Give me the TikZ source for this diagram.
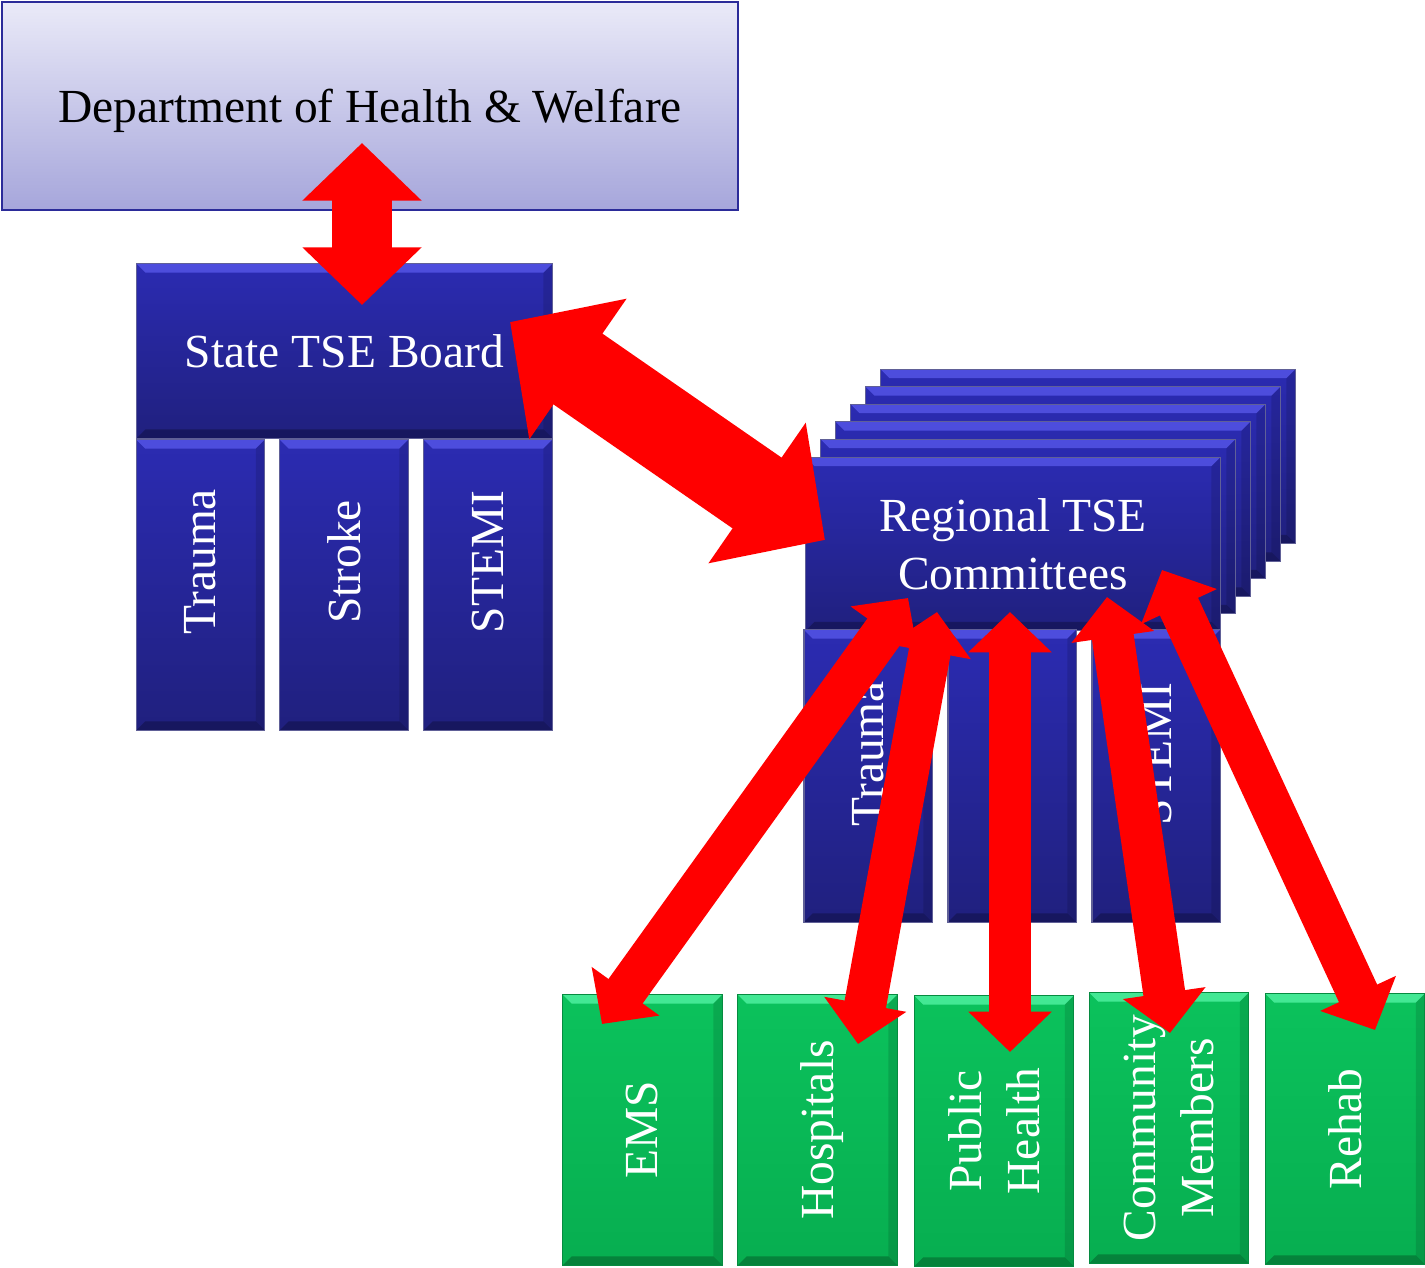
\documentclass[tikz,border=0pt]{standalone}
\usepackage{fontspec}
\setmainfont{Liberation Serif}
\usetikzlibrary{arrows.meta}

\definecolor{boardblue}{HTML}{2B2BB2}
\definecolor{boarddark}{HTML}{20207E}
\definecolor{boardedge}{HTML}{1C1C6A}
\definecolor{boardhi}{HTML}{5656E8}
\definecolor{partgreen}{HTML}{0BC25C}
\definecolor{partdark}{HTML}{07AE50}
\definecolor{parthi}{HTML}{52F2A2}
\definecolor{deptlight}{HTML}{EAEAF8}
\definecolor{deptdark}{HTML}{A6A6DB}
\definecolor{deptedge}{HTML}{2B2B99}
\definecolor{linkred}{HTML}{FF0000}

\tikzset{
  bevel/.style={path picture={
    \fill[#1, opacity=.8] (path picture bounding box.north west) -- (path picture bounding box.north east)
      -- ([shift={(-2.5pt,-2.5pt)}]path picture bounding box.north east) -- ([shift={(2.5pt,-2.5pt)}]path picture bounding box.north west) -- cycle;
    \fill[black, opacity=.25] (path picture bounding box.south west) -- (path picture bounding box.south east)
      -- ([shift={(-2.5pt,2.5pt)}]path picture bounding box.south east) -- ([shift={(2.5pt,2.5pt)}]path picture bounding box.south west) -- cycle;
    \fill[black, opacity=.12] (path picture bounding box.north east) -- (path picture bounding box.south east)
      -- ([shift={(-2.5pt,2.5pt)}]path picture bounding box.south east) -- ([shift={(-2.5pt,-2.5pt)}]path picture bounding box.north east) -- cycle;
  }},
  deptbox/.style={rectangle, inner sep=0pt, top color=deptlight, bottom color=deptdark, draw=deptedge, line width=0.02cm, text=black},
  blueblock/.style={rectangle, inner sep=0pt, top color=boardblue, bottom color=boarddark, draw=boardedge!70, line width=0.3pt, text=white, bevel=boardhi},
  greenblock/.style={rectangle, inner sep=0pt, top color=partgreen, bottom color=partdark, draw=partdark!80!black, line width=0.3pt, bevel=parthi, minimum width=1.59cm, minimum height=2.7cm},
  colblock/.style={minimum width=1.28cm, minimum height=2.9cm},
  coltext/.style={rotate=90, text=white, align=center, inner sep=0pt},
  link/.style={draw=linkred, line width=#1, >={Triangle[length=0pt .96, width=0pt 1.93]}, <->}
}

\begin{document}
\begin{tikzpicture}[x=0.01cm, y=-0.01cm, font=\fontsize{13.5}{16.5}\selectfont]
  \useasboundingbox (0,0) rectangle (1425,1268);

  % Department
  \node[deptbox, text depth=0pt, minimum width=7.36cm, minimum height=2.08cm] (dhw) at (370,106) {Department of Health \& Welfare};

  % State board with its three committees
  \node[blueblock, minimum width=4.15cm, minimum height=1.74cm] (state) at (344.5,351) {State TSE Board};
  \node[blueblock, colblock] (sTrauma) at (200.5,585) {};
  \node[blueblock, colblock] (sStroke) at (344,585) {};
  \node[blueblock, colblock] (sStemi) at (488,585) {};
  \node[coltext] (sTraumaText) at (200.5,562) {Trauma};
  \node[coltext] (sStrokeText) at (344,562) {Stroke};
  \node[coltext] (sStemiText) at (488,562) {STEMI};

  % Regional committees, stacked
  \foreach \k in {5,...,1}
    \node[blueblock, minimum width=4.14cm, minimum height=1.74cm] (reg\k) at (1013+15*\k,544-17.5*\k) {};
  \node[blueblock, minimum width=4.14cm, minimum height=1.73cm, align=center] (reg) at (1013,544) {Regional TSE\\Committees};
  \node[blueblock, colblock, minimum height=2.92cm] (rTrauma) at (868,776) {};
  \node[blueblock, colblock, minimum height=2.92cm] (rStroke) at (1012,776) {};
  \node[blueblock, colblock, minimum height=2.92cm] (rStemi) at (1156,776) {};
  \node[coltext] (rTraumaText) at (868,754) {Trauma};
  \node[coltext] (rStrokeText) at (1012,754) {Stroke};
  \node[coltext] (rStemiText) at (1156,754) {STEMI};

  % Partners
  \node[greenblock] (ems) at (642.5,1130) {};
  \node[greenblock] (hosp) at (817.5,1130) {};
  \node[greenblock] (pubh) at (994,1131) {};
  \node[greenblock] (comm) at (1169,1128) {};
  \node[greenblock] (rehab) at (1345,1129) {};
  \node[coltext] (emsText) at (ems) {EMS};
  \node[coltext, text depth=0pt] (hospText) at (hosp) {Hospitals};
  \node[coltext] (pubhText) at (pubh) {Public\\Health};
  \node[coltext] (commText) at (comm) {Community\\Members};
  \node[coltext] (rehabText) at (rehab) {Rehab};

  % Arrow ends
  \coordinate (dhwEnd) at (362,143);
  \coordinate (stateEnd) at (362,305);
  \coordinate (stateSide) at (510,322);
  \coordinate (regSide) at (825,540);
  \coordinate (regEms) at (908,598);
  \coordinate (emsEnd) at (602,1024);
  \coordinate (regHosp) at (937,612);
  \coordinate (hospEnd) at (858,1044);
  \coordinate (regPubh) at (1010,612);
  \coordinate (pubhEnd) at (1010,1052);
  \coordinate (regComm) at (1107,597);
  \coordinate (commEnd) at (1170,1033);
  \coordinate (regRehab) at (1162,570);
  \coordinate (rehabEnd) at (1375,1030);

  % Links
  \draw[link=0.6cm] (dhwEnd) -- (stateEnd);
  \draw[link=0.86cm] (stateSide) -- (regSide);
  \draw[link=0.42cm] (regEms) -- (emsEnd);
  \draw[link=0.42cm] (regHosp) -- (hospEnd);
  \draw[link=0.42cm] (regPubh) -- (pubhEnd);
  \draw[link=0.42cm] (regComm) -- (commEnd);
  \draw[link=0.42cm] (regRehab) -- (rehabEnd);
\end{tikzpicture}
\end{document}
